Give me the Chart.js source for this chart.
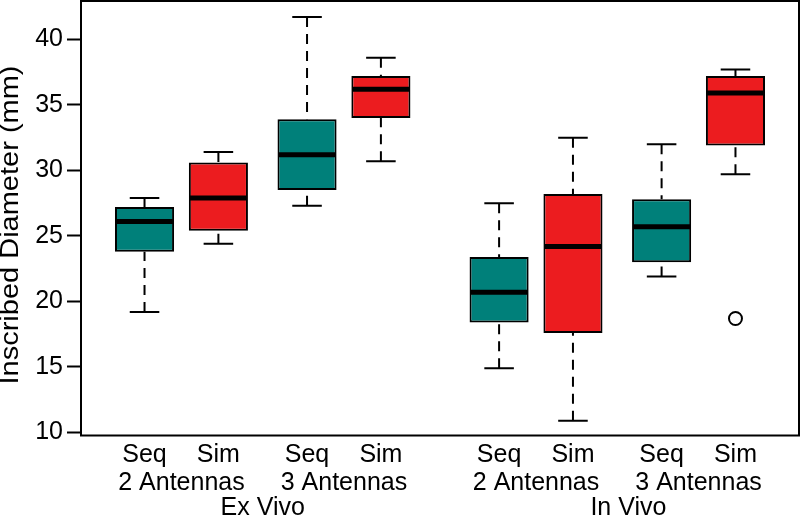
<!DOCTYPE html>
<html>
<head>
<meta charset="utf-8">
<script src="https://cdn.jsdelivr.net/npm/chart.js@4.4.0/dist/chart.umd.min.js"></script>
<style>
  html, body { margin: 0; padding: 0; background: #fff; }
  #wrap { width: 800px; height: 523px; }
</style>
</head>
<body>
<div id="wrap"><canvas id="box-chart" width="800" height="523"></canvas></div>
<script>
// Box positions on the x axis and the labels under them
const boxPositions = [1, 2, 3.2, 4.2, 5.8, 6.8, 8, 9];
const methodLabels = ['Seq', 'Sim', 'Seq', 'Sim', 'Seq', 'Sim', 'Seq', 'Sim'];
const antennaPositions = [1.5, 3.7, 6.3, 8.5];
const antennaLabels = ['2 Antennas', '3 Antennas', '2 Antennas', '3 Antennas'];
const settingPositions = [2.6, 7.55];
const settingLabels = ['Ex Vivo', 'In Vivo'];

// Five-number summaries (mm)
const whiskerLow  = [19.2, 24.4, 27.3, 30.7, 14.9, 10.9, 21.9, 29.7];
const quartile1   = [23.8, 25.4, 28.5, 34.0, 18.4, 17.6, 23.0, 31.9];
const medians     = [26.1, 27.9, 31.2, 36.2, 20.7, 24.2, 25.7, 35.9];
const quartile3   = [27.2, 30.6, 33.9, 37.2, 23.4, 28.2, 27.8, 37.2];
const whiskerHigh = [27.9, 31.4, 41.7, 38.6, 27.5, 32.5, 32.0, 37.7];

// Outlier points
const outlierX = [9];
const outlierY = [18.7];

// Axis ticks
const yTicks = [10, 15, 20, 25, 30, 35, 40];

const TEAL = '#00807a';
const RED = '#ec1c1f';
const FONT = "'Liberation Sans', Arial, Helvetica, sans-serif";

const boxColors = methodLabels.map(m => (m === 'Seq' ? TEAL : RED));

// Whiskers, caps and medians drawn on top of the floating bars
const boxWhiskers = {
    id: 'boxWhiskers',
    afterDatasetsDraw(chart) {
        const ctx = chart.ctx;
        const xs = chart.scales.x;
        const ys = chart.scales.y;
        const bars = chart.getDatasetMeta(0).data;
        ctx.save();
        ctx.strokeStyle = '#000';
        ctx.lineCap = 'butt';
        bars.forEach((bar, i) => {
            const cx = xs.getPixelForValue(boxPositions[i]);
            const half = bar.width / 2;
            const cap = half / 2;
            const yHi = ys.getPixelForValue(whiskerHigh[i]);
            const yLo = ys.getPixelForValue(whiskerLow[i]);

            // dashed whiskers, starting from the caps
            ctx.lineWidth = 2;
            ctx.setLineDash([10, 7]);
            ctx.beginPath();
            ctx.moveTo(cx, yHi);
            ctx.lineTo(cx, ys.getPixelForValue(quartile3[i]));
            ctx.moveTo(cx, yLo);
            ctx.lineTo(cx, ys.getPixelForValue(quartile1[i]));
            ctx.stroke();

            // caps
            ctx.setLineDash([]);
            ctx.beginPath();
            ctx.moveTo(cx - cap, yHi);
            ctx.lineTo(cx + cap, yHi);
            ctx.moveTo(cx - cap, yLo);
            ctx.lineTo(cx + cap, yLo);
            ctx.stroke();

            // median
            const yMed = ys.getPixelForValue(medians[i]);
            ctx.lineWidth = 5;
            ctx.beginPath();
            ctx.moveTo(cx - half + 1, yMed);
            ctx.lineTo(cx + half - 1, yMed);
            ctx.stroke();
        });
        ctx.restore();
    }
};

// Plot frame and the (slightly stretched) y axis title
const frameAndTitle = {
    id: 'frameAndTitle',
    afterDraw(chart) {
        const ctx = chart.ctx;
        const a = chart.chartArea;
        ctx.save();
        ctx.strokeStyle = '#000';
        ctx.lineWidth = 2;
        ctx.strokeRect(a.left, a.top, a.right - a.left, a.bottom - a.top);

        ctx.translate(11, 225);
        ctx.rotate(-Math.PI / 2);
        ctx.scale(1.16, 1);
        ctx.fillStyle = '#000';
        ctx.font = '25px ' + FONT;
        ctx.textAlign = 'center';
        ctx.textBaseline = 'middle';
        ctx.fillText('Inscribed Diameter (mm)', 0, 0);
        ctx.restore();
    }
};

// no label overhang padding: the plot area is fixed by layout padding
function noOverhang(scale) {
    scale.paddingLeft = 0;
    scale.paddingRight = 0;
    scale.paddingTop = 0;
    scale.paddingBottom = 0;
}

function labelAxis(positions, labels, weight, tickLength) {
    return {
        type: 'linear',
        position: 'bottom',
        weight: weight,
        min: 0.14,
        max: 9.86,
        offset: false,
        grid: {
            display: true,
            offset: false,
            drawOnChartArea: false,
            drawTicks: true,
            tickLength: tickLength,
            tickColor: 'rgba(0,0,0,0)'
        },
        border: { display: false },
        afterBuildTicks: scale => {
            scale.ticks = positions.map(v => ({ value: v }));
        },
        afterFit: noOverhang,
        ticks: {
            autoSkip: false,
            maxRotation: 0,
            minRotation: 0,
            padding: 0,
            color: '#000',
            font: { family: FONT, size: 25, lineHeight: 1 },
            callback: (value, index) => labels[index]
        }
    };
}

new Chart(document.getElementById('box-chart'), {
    type: 'bar',
    data: {
        datasets: [{
            type: 'bar',
            data: boxPositions.map((x, i) => ({ x: x, y: [quartile1[i], quartile3[i]] })),
            backgroundColor: boxColors,
            borderColor: '#000',
            borderWidth: 2,
            borderSkipped: false,
            categoryPercentage: 1.0,
            barPercentage: 0.8,
            xAxisID: 'x',
            yAxisID: 'y'
        }, {
            type: 'scatter',
            data: outlierX.map((x, i) => ({ x: x, y: outlierY[i] })),
            pointStyle: 'circle',
            pointRadius: 6.5,
            backgroundColor: 'rgba(0,0,0,0)',
            borderColor: '#000',
            borderWidth: 2,
            xAxisID: 'x',
            yAxisID: 'y'
        }]
    },
    options: {
        responsive: false,
        animation: false,
        layout: {
            autoPadding: false,
            padding: { left: 0, top: 1, right: 1, bottom: 2 }
        },
        plugins: {
            legend: { display: false },
            tooltip: { enabled: false }
        },
        scales: {
            x: labelAxis(boxPositions, methodLabels, 0, 7.5),
            x2: labelAxis(antennaPositions, antennaLabels, 1, 3),
            x3: labelAxis(settingPositions, settingLabels, 2, 0),
            y: {
                type: 'linear',
                position: 'left',
                min: 9.77,
                max: 42.93,
                afterBuildTicks: scale => {
                    scale.ticks = yTicks.map(v => ({ value: v }));
                },
                afterFit: scale => {
                    scale.width = 81;
                    noOverhang(scale);
                },
                grid: {
                    display: true,
                    drawOnChartArea: false,
                    drawTicks: true,
                    tickLength: 14,
                    tickWidth: 2,
                    tickColor: '#000'
                },
                border: { display: false },
                ticks: {
                    padding: 4,
                    color: '#000',
                    font: { family: FONT, size: 25 }
                }
            }
        }
    },
    plugins: [boxWhiskers, frameAndTitle]
});
</script>
</body>
</html>
